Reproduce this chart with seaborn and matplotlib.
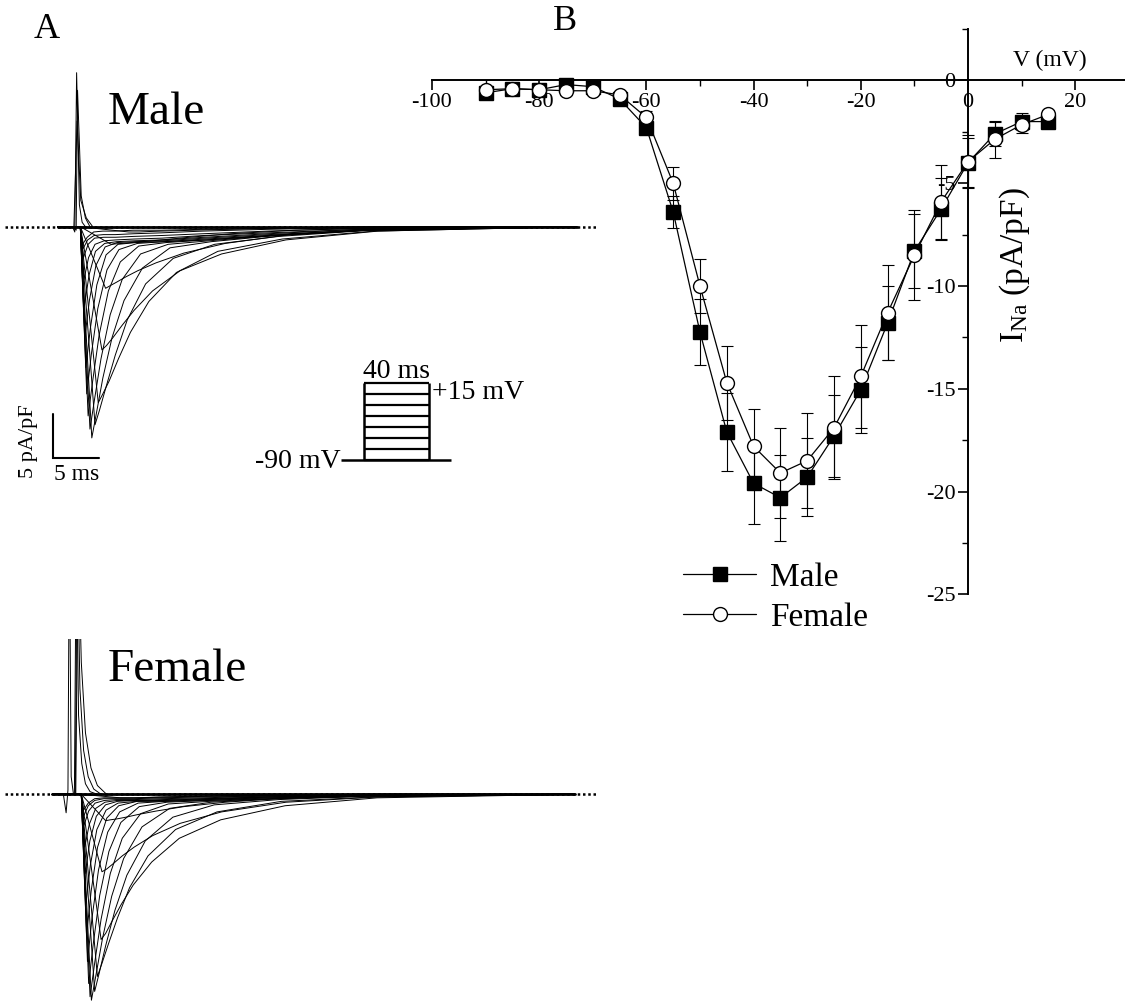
import matplotlib
matplotlib.use("Agg")
import pandas as pd
import matplotlib.pyplot as plt
import seaborn as sns

sns.set_theme(style="white", context="paper")
plt.rcParams["font.family"] = ["Liberation Serif", "DejaVu Serif"]
plt.rcParams["mathtext.default"] = "regular"
plt.rcParams["axes.unicode_minus"] = False
plt.rcParams["text.color"] = "black"
plt.rcParams["xtick.color"] = "black"
plt.rcParams["ytick.color"] = "black"

W, H = 1125, 1001

# -------------------------
# Panel B: I-V relation, mean +/- SEM (pA/pF)
# -------------------------
volts = [-90, -85, -80, -75, -70, -65, -60, -55, -50, -45, -40,
         -35, -30, -25, -20, -15, -10, -5, 0, 5, 10, 15]
male_mean = [-0.6, -0.4, -0.45, -0.2, -0.3, -0.9, -2.3, -6.4, -12.25, -17.1, -19.6,
             -20.3, -19.3, -17.3, -15.05, -11.8, -8.3, -6.25, -4.0, -2.6, -2.0, -2.0]
male_sem = [0.2, 0.15, 0.2, 0.2, 0.2, 0.2, 0.3, 0.8, 1.6, 1.9, 2.0,
            2.1, 1.9, 2.0, 2.1, 1.8, 1.8, 1.5, 1.2, 0.6, 0.4, 0.2]
female_mean = [-0.45, -0.4, -0.45, -0.5, -0.5, -0.7, -1.8, -5.0, -10.0, -14.7, -17.8,
               -19.1, -18.5, -16.9, -14.4, -11.3, -8.5, -5.9, -3.95, -2.86, -2.15, -1.65]
female_sem = [0.2, 0.15, 0.2, 0.2, 0.2, 0.2, 0.3, 0.8, 1.3, 1.8, 1.8,
              2.2, 2.3, 2.5, 2.5, 2.3, 2.2, 1.8, 1.3, 0.9, 0.4, 0.2]

# -------------------------
# Panel A: representative traces (time in ms from step onset, current in pA/pF)
# one row per test potential, -65 ... +15 mV
# -------------------------
step_volts = [-65, -60, -55, -50, -45, -40, -35, -30, -25, -20, -15, -10, -5, 0, 5, 10, 15]
decay_offsets = [0, 0.5, 1.2, 2.2, 3.5, 5.5, 8.5, 13, 20, 30]

male_peak_t = [5.5, 3.6, 3.0, 2.6, 2.2, 1.85, 1.5, 1.3, 1.1, 0.95, 0.85, 0.75, 0.7, 0.65, 0.6, 0.55, 0.5]
male_decay = [
    [-0.6, -0.6, -0.6, -0.55, -0.5, -0.45, -0.35, -0.25, -0.1, 0.0],
    [-2.0, -1.95, -1.9, -1.8, -1.7, -1.5, -1.2, -0.8, -0.4, -0.1],
    [-7.0, -6.7, -6.3, -5.7, -5.0, -4.1, -3.0, -1.9, -0.9, -0.3],
    [-14.0, -13.5, -12.6, -11.2, -9.5, -7.3, -5.0, -3.1, -1.5, -0.5],
    [-20.0, -19.0, -17.5, -15.0, -12.0, -8.5, -5.2, -2.8, -1.4, -0.5],
    [-22.5, -20.8, -18.2, -14.6, -10.6, -6.5, -3.6, -2.0, -1.1, -0.4],
    [-24.0, -21.2, -17.2, -12.6, -8.4, -4.7, -2.4, -1.7, -1.0, -0.4],
    [-23.0, -19.6, -15.0, -10.0, -6.0, -3.1, -2.0, -1.6, -1.0, -0.4],
    [-21.5, -17.5, -12.3, -7.3, -4.0, -2.2, -1.8, -1.5, -1.0, -0.4],
    [-19.0, -14.5, -9.3, -4.9, -2.6, -1.9, -1.7, -1.5, -1.0, -0.4],
    [-16.0, -11.5, -6.6, -3.2, -2.0, -1.8, -1.7, -1.4, -1.0, -0.4],
    [-12.5, -8.3, -4.4, -2.3, -1.8, -1.7, -1.6, -1.3, -0.9, -0.4],
    [-9.0, -5.5, -2.8, -1.9, -1.7, -1.6, -1.5, -1.2, -0.8, -0.3],
    [-6.0, -3.5, -2.0, -1.6, -1.5, -1.4, -1.3, -1.0, -0.7, -0.3],
    [-3.5, -2.0, -1.3, -1.2, -1.2, -1.1, -1.0, -0.8, -0.5, -0.2],
    [-2.5, -1.5, -1.0, -0.9, -0.9, -0.8, -0.7, -0.5, -0.3, -0.1],
    [-2.0, -1.2, -0.6, -0.5, -0.5, -0.4, -0.4, -0.3, -0.2, 0.0],
]

female_peak_t = [4.5, 2.9, 2.5, 2.4, 2.0, 1.7, 1.35, 1.2, 1.05, 0.92, 0.82, 0.74, 0.68, 0.62, 0.55, 0.5, 0.5]
female_decay = [
    [-0.4, -0.4, -0.4, -0.4, -0.35, -0.3, -0.25, -0.15, -0.1, 0.0],
    [-3.0, -2.9, -2.8, -2.6, -2.3, -1.9, -1.4, -0.9, -0.4, -0.1],
    [-8.8, -8.5, -7.9, -7.0, -6.0, -4.7, -3.3, -2.0, -0.9, -0.3],
    [-16.5, -15.8, -14.4, -12.5, -10.3, -7.7, -5.0, -2.9, -1.3, -0.4],
    [-20.7, -19.2, -17.0, -14.0, -10.6, -7.0, -4.0, -2.0, -0.8, -0.3],
    [-22.4, -20.3, -17.2, -13.2, -9.2, -5.3, -2.6, -1.2, -0.6, -0.2],
    [-23.4, -20.5, -16.4, -11.6, -7.3, -3.7, -1.6, -0.9, -0.5, -0.2],
    [-23.0, -19.2, -14.2, -9.0, -5.0, -2.2, -1.1, -0.8, -0.5, -0.2],
    [-21.5, -17.0, -11.5, -6.5, -3.2, -1.4, -0.9, -0.7, -0.5, -0.2],
    [-19.0, -14.0, -8.6, -4.3, -2.0, -1.0, -0.8, -0.7, -0.4, -0.1],
    [-16.0, -11.0, -6.0, -2.7, -1.3, -0.8, -0.8, -0.6, -0.4, -0.1],
    [-12.5, -8.0, -4.0, -1.8, -1.0, -0.8, -0.7, -0.6, -0.3, -0.1],
    [-9.0, -5.3, -2.5, -1.2, -0.8, -0.7, -0.7, -0.5, -0.3, -0.1],
    [-6.0, -3.4, -1.6, -0.9, -0.7, -0.7, -0.6, -0.5, -0.3, -0.1],
    [-3.5, -1.9, -1.0, -0.7, -0.6, -0.6, -0.5, -0.4, -0.2, 0.0],
    [-2.5, -1.3, -0.7, -0.5, -0.5, -0.5, -0.4, -0.3, -0.2, 0.0],
    [-1.8, -1.0, -0.5, -0.4, -0.4, -0.4, -0.3, -0.2, -0.1, 0.0],
]

# capacitive transients at the step onset
male_spike_t = [[-0.6, -0.35, -0.15, 0.15, 0.45, 0.8],
                [-0.5, -0.2, -0.05, 0.35, 0.8, 1.3],
                [-0.45, -0.1, 0.3, 0.9, 1.6]]
male_spike_i = [[0, -0.6, 17.5, 2.5, 0.5, 0],
                [0, -0.4, 15.5, 3.5, 1.0, 0],
                [0, 12.0, 3.0, 1.0, 0]]
female_spike_t = [[-1.7, -1.4, -1.2, -1.05, -0.85, -0.6],
                  [-0.5, -0.3, -0.05, 0.3, 0.7, 1.2, 2.0],
                  [-0.4, -0.2, 0.1, 0.5, 1.0, 1.6, 2.4],
                  [-0.35, -0.1, 0.25, 0.7, 1.3, 2.0, 3.0]]
female_spike_i = [[0, -2.1, 0.5, 30, 2, 0],
                  [0, 30, 9, 3.5, 1.2, 0.3, 0],
                  [0, 30, 12, 5, 2, 0.6, 0],
                  [0, 30, 15, 7, 3, 1.0, 0]]

# voltage protocol
pulse_levels = [-90, -75, -60, -45, -30, -15, 0, 15]
pulse_ms = 40

# scale bars
bar_ms = 5
bar_pa = 5


def fx(x):
    return x / W


def fy(y):
    return 1 - y / H


def trace_frame(peak_t, decay, t_start, t_end, spike_t, spike_i):
    rows = []
    for k, (tp, vals) in enumerate(zip(peak_t, decay)):
        ts = [t_start, 0.25] + [tp + o for o in decay_offsets] + [t_end]
        ys = [0.0, 0.0] + list(vals) + [0.0]
        rows += [(f"v{k}", t, y) for t, y in zip(ts, ys)]
    for k, (ts, ys) in enumerate(zip(spike_t, spike_i)):
        rows += [(f"s{k}", t, y) for t, y in zip(ts, ys)]
    return pd.DataFrame(rows, columns=["trace", "t", "I"])


fig = plt.figure(figsize=(W / 100, H / 100), dpi=100)

# -------------------------
# Panel A traces
# -------------------------
MS_PX, PA_PX = 9.2, 8.8


def trace_axes(top, bottom, base_y, onset_x, df, t_start, t_end):
    ax = fig.add_axes([0, fy(bottom), 620 / W, (bottom - top) / H])
    ax.set_xlim(-onset_x / MS_PX, (620 - onset_x) / MS_PX)
    ax.set_ylim(-(bottom - base_y) / PA_PX, (base_y - top) / PA_PX)
    ax.axis("off")
    ax.plot([-(onset_x - 5) / MS_PX, (597 - onset_x) / MS_PX], [0, 0],
            color="black", lw=1.8, ls=(0, (1, 1.1)))
    ax.plot([t_start, t_end], [0, 0], color="black", lw=2.0)
    sns.lineplot(data=df, x="t", y="I", units="trace", estimator=None, sort=False,
                 color="black", linewidth=0.7, legend=False, ax=ax)
    ax.set_xlabel("")
    ax.set_ylabel("")
    return ax


male_df = trace_frame(male_peak_t, male_decay, -2.2, 54.2, male_spike_t, male_spike_i)
ax_m = trace_axes(40, 470, 226.7, 78, male_df, -2.2, 54.2)

female_df = trace_frame(female_peak_t, female_decay, -2.9, 53.9, female_spike_t, female_spike_i)
ax_f = trace_axes(639, 1001, 794.3, 79, female_df, -2.9, 53.9)

# scale bars (male axes)
x0, y0 = -2.68, -26.3
ax_m.plot([x0, x0, x0 + bar_ms], [y0 + bar_pa, y0, y0], color="black", lw=1.5,
          solid_joinstyle="miter")
fig.text(fx(28), fy(441), f"{bar_pa} pA/pF", rotation=90, ha="center", va="center", fontsize=16)
fig.text(fx(77), fy(475), f"{bar_ms} ms", ha="center", va="center", fontsize=17)

fig.text(fx(108), fy(124), "Male", ha="left", va="baseline", fontsize=34)
fig.text(fx(108), fy(681), "Female", ha="left", va="baseline", fontsize=34)
fig.text(fx(47), fy(29), "A", ha="center", va="center", fontsize=26)
fig.text(fx(565), fy(21), "B", ha="center", va="center", fontsize=26)

# pulse protocol inset
ax_p = fig.add_axes([fx(330), fy(470), 140 / W, 95 / H])
ax_p.axis("off")
ax_p.set_xlim((330 - 364) / 1.633, (470 - 364) / 1.633)
ax_p.set_ylim(-90 - 10 / 0.73, -90 + 85 / 0.73)
ax_p.hlines(pulse_levels, 0, pulse_ms, color="black", lw=1.6)
ax_p.vlines([0, pulse_ms], pulse_levels[0], pulse_levels[-1], color="black", lw=1.8)
ax_p.hlines(pulse_levels[0], -13.8, pulse_ms + 13.5, color="black", lw=1.8)
fig.text(fx(397), fy(371), f"{pulse_ms} ms", ha="center", va="center", fontsize=20)
fig.text(fx(432), fy(392), f"+{pulse_levels[-1]} mV", ha="left", va="center", fontsize=20)
fig.text(fx(341), fy(461), f"{pulse_levels[0]} mV", ha="right", va="center", fontsize=20)

# -------------------------
# Panel B: I-V curve
# -------------------------
ax_b = fig.add_axes([fx(432), fy(594.3), (W - 432) / W, (594.3 - 29.1) / H])
ax_b.patch.set_visible(False)

ax_b.errorbar(volts, male_mean, yerr=male_sem, fmt="none", ecolor="black",
              elinewidth=0.8, capsize=4, capthick=0.8, zorder=1)
ax_b.errorbar(volts, female_mean, yerr=female_sem, fmt="none", ecolor="black",
              elinewidth=0.8, capsize=4, capthick=0.8, zorder=1)

sns.lineplot(x=volts, y=male_mean, color="black", linewidth=0.9, marker="s",
             markersize=9.5, markerfacecolor="black", markeredgecolor="black",
             markeredgewidth=1.0, ax=ax_b, zorder=2)
h_male = ax_b.lines[-1]
sns.lineplot(x=volts, y=female_mean, color="black", linewidth=0.9, marker="o",
             markersize=10, markerfacecolor="white", markeredgecolor="black",
             markeredgewidth=1.0, ax=ax_b, zorder=3)
h_female = ax_b.lines[-1]

ax_b.set_xlim(-100, (W - 432) / 5.36 - 100)
ax_b.set_ylim(-25, 2.5)
ax_b.spines["left"].set_position(("data", 0))
ax_b.spines["bottom"].set_position(("data", 0))
ax_b.spines["top"].set_visible(False)
ax_b.spines["right"].set_visible(False)
for s in ("left", "bottom"):
    ax_b.spines[s].set_linewidth(1.4)
    ax_b.spines[s].set_color("black")

ax_b.set_xticks(range(-100, 21, 20))
ax_b.set_xticks(range(-90, 21, 20), minor=True)
ax_b.set_yticks(range(-25, 1, 5))
ax_b.set_yticks([-22.5, -17.5, -12.5, -7.5, -2.5, 2.5], minor=True)
ax_b.tick_params(axis="both", which="major", direction="out", length=7, width=1.2,
                 labelsize=16, pad=2, color="black", bottom=True, left=True)
ax_b.tick_params(axis="both", which="minor", direction="out", length=4, width=1.0,
                 color="black", bottom=True, left=True)
ax_b.set_xlabel("")
ax_b.set_ylabel("")

fig.text(fx(1050), fy(60), "V (mV)", ha="center", va="center", fontsize=17)
fig.text(fx(1015), fy(265), r"$\mathregular{I_{Na}}$ (pA/pF)", rotation=90,
         ha="center", va="center", fontsize=24)

ax_b.legend(handles=[h_male, h_female], labels=["Male", "Female"], loc="upper left",
            bbox_to_anchor=(fx(683), fy(562)), bbox_transform=fig.transFigure,
            frameon=False, fontsize=24, handlelength=2.2, handletextpad=0.4,
            labelspacing=0.3, borderpad=0, borderaxespad=0)

fig.savefig("out.png", dpi=100)
plt.close(fig)
